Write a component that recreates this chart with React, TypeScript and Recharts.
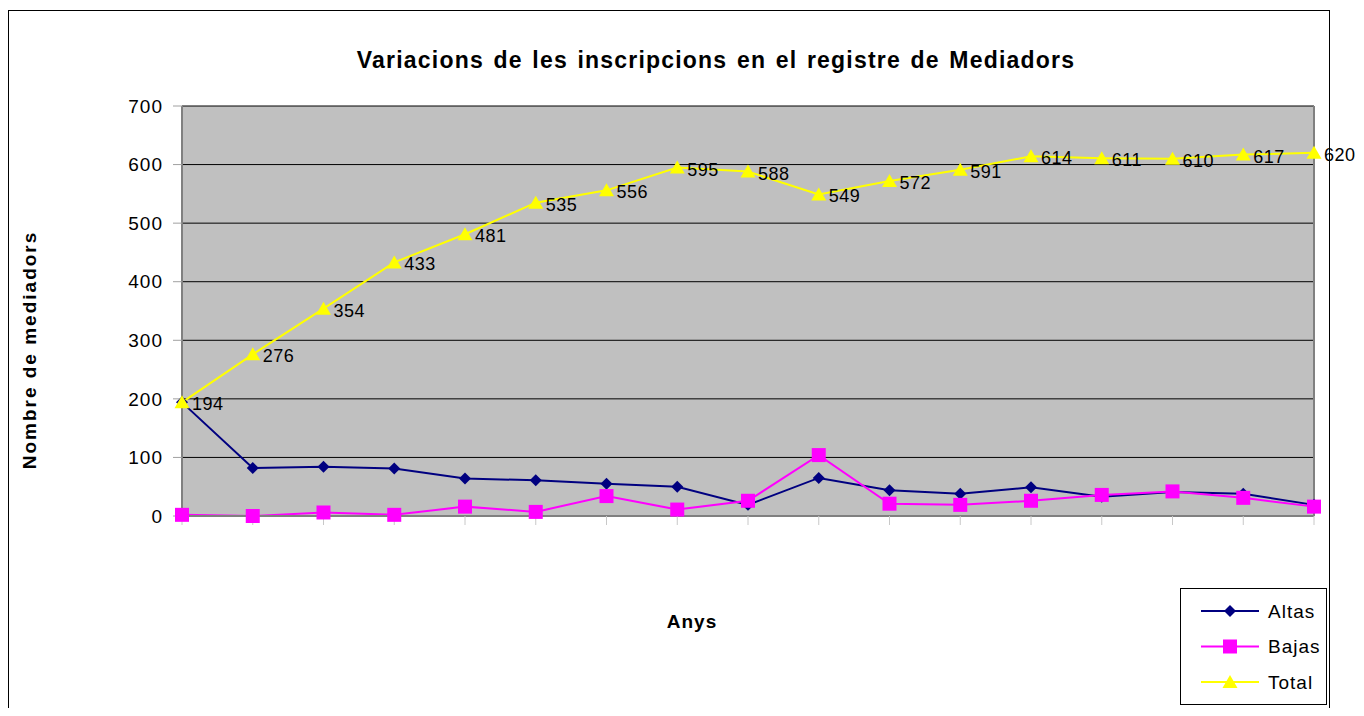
import React from 'react';
import { LineChart, Line, XAxis, YAxis, CartesianGrid, LabelList, ReferenceLine } from 'recharts';

const categories = ['1', '2', '3', '4', '5', '6', '7', '8', '9', '10', '11', '12', '13', '14', '15', '16', '17'];
const altas = [194, 82, 84, 81, 64, 61, 55, 50, 19, 65, 44, 38, 49, 33, 41, 38, 19];
const bajas = [2, 0, 6, 2, 16, 7, 34, 11, 26, 104, 21, 19, 26, 36, 42, 31, 16];
const total = [194, 276, 354, 433, 481, 535, 556, 595, 588, 549, 572, 591, 614, 611, 610, 617, 620];
const yTicks = [0, 100, 200, 300, 400, 500, 600, 700];

const data = categories.map((c, i) => ({ year: c, Altas: altas[i], Bajas: bajas[i], Total: total[i] }));

const FONT = '"Liberation Sans", Arial, sans-serif';
const NAVY = '#000080';
const PINK = '#ff00ff';
const YELLOW = '#ffff00';

const Diamond = (props: any) => {
  const { cx, cy, fill } = props;
  if (cx == null || cy == null) return null;
  const r = 6;
  return <path d={`M${cx},${cy - r}L${cx + r},${cy}L${cx},${cy + r}L${cx - r},${cy}Z`} fill={fill} />;
};

const Square = (props: any) => {
  const { cx, cy, fill } = props;
  if (cx == null || cy == null) return null;
  return <rect x={cx - 7} y={cy - 7} width={14} height={14} fill={fill} />;
};

const Triangle = (props: any) => {
  const { cx, cy, fill } = props;
  if (cx == null || cy == null) return null;
  return <path d={`M${cx},${cy - 7}L${cx + 7.5},${cy + 6}L${cx - 7.5},${cy + 6}Z`} fill={fill} />;
};

const TotalLabel = (props: any) => {
  const { x, y, value } = props;
  return (
    <text x={x + 10} y={y + 2} dominantBaseline="central" fontSize={18} letterSpacing={0.5} fontFamily={FONT} fill="#000">
      {value}
    </text>
  );
};

const legendItems = [
  { name: 'Altas', color: NAVY, Marker: Diamond },
  { name: 'Bajas', color: PINK, Marker: Square },
  { name: 'Total', color: YELLOW, Marker: Triangle },
];

// legend drawn by hand, outside the chart so it doesn't eat plot height
const LegendBox = () => (
  <div
    style={{
      position: 'absolute',
      left: 1171,
      top: 577,
      width: 147,
      height: 117,
      border: '1px solid #000',
      background: '#fff',
      boxSizing: 'border-box',
    }}
  >
    <svg width={145} height={115} style={{ display: 'block' }}>
      {legendItems.map((it, i) => {
        const y = 22 + i * 35.5;
        return (
          <g key={it.name}>
            <line x1={20} x2={78} y1={y} y2={y} stroke={it.color} strokeWidth={2} />
            <it.Marker cx={49} cy={y} fill={it.color} />
            <text x={87} y={y} dominantBaseline="central" fontSize={19} letterSpacing={1} fontFamily={FONT} fill="#000">
              {it.name}
            </text>
          </g>
        );
      })}
    </svg>
  </div>
);

export default function App() {
  return (
    // outer box keeps the page from scrolling; the frame runs past the bottom edge like the original
    <div style={{ height: 706, marginBottom: -8, overflowY: 'clip', overflowX: 'visible' }}>
      <style>{'.recharts-surface { overflow: visible; }'}</style>
      <div
        style={{
          position: 'relative',
          width: 1320,
          height: 710,
          marginTop: 2,
          border: '1px solid #000',
          background: '#fff',
          fontFamily: FONT,
        }}
      >
        <div
          style={{
            position: 'absolute',
            left: 0,
            width: 1414,
            top: 36,
            textAlign: 'center',
            fontSize: 23,
            fontWeight: 'bold',
            letterSpacing: 1.2,
            wordSpacing: 2,
            whiteSpace: 'nowrap',
          }}
        >
          Variacions de les inscripcions en el registre de Mediadors
        </div>
        <div
          style={{
            position: 'absolute',
            left: 21,
            top: 339,
            fontSize: 19,
            fontWeight: 'bold',
            letterSpacing: 2,
            whiteSpace: 'nowrap',
            transform: 'translate(-50%, -50%) rotate(-90deg)',
          }}
        >
          Nombre de mediadors
        </div>
        <div
          style={{
            position: 'absolute',
            left: 683,
            top: 611,
            transform: 'translate(-50%, -50%)',
            fontSize: 19,
            fontWeight: 'bold',
            letterSpacing: 1,
          }}
        >
          Anys
        </div>
        <LineChart
          width={1354}
          height={706}
          data={data}
          margin={{ top: 95, right: 49, left: 103, bottom: 181 }}
          style={{ position: 'absolute', left: 0, top: 0, overflow: 'visible' }}
        >
          <CartesianGrid vertical={false} stroke="#000" fill="#c0c0c0" fillOpacity={1} />
          <XAxis
            dataKey="year"
            height={20}
            tickFormatter={() => ''}
            axisLine={{ stroke: '#808080', strokeWidth: 2 }}
            tickLine={{ stroke: '#c8c8c8' }}
            tickSize={9}
          />
          <YAxis
            width={70}
            domain={[0, 700]}
            ticks={yTicks}
            interval={0}
            axisLine={{ stroke: '#808080', strokeWidth: 2 }}
            tickLine={{ stroke: '#a0a0a0' }}
            tickSize={9}
            tickMargin={10}
            tick={{ fontSize: 19, fill: '#000', fontFamily: FONT, letterSpacing: 1 }}
          />
          <ReferenceLine x={categories[categories.length - 1]} stroke="#808080" strokeWidth={2} />
          <Line dataKey="Altas" stroke={NAVY} strokeWidth={2} dot={<Diamond fill={NAVY} />} activeDot={false} isAnimationActive={false} />
          <Line dataKey="Bajas" stroke={PINK} strokeWidth={2} dot={<Square fill={PINK} />} activeDot={false} isAnimationActive={false} />
          <Line dataKey="Total" stroke={YELLOW} strokeWidth={2} dot={<Triangle fill={YELLOW} />} activeDot={false} isAnimationActive={false}>
            <LabelList dataKey="Total" content={<TotalLabel />} />
          </Line>
        </LineChart>
        <LegendBox />
      </div>
    </div>
  );
}
